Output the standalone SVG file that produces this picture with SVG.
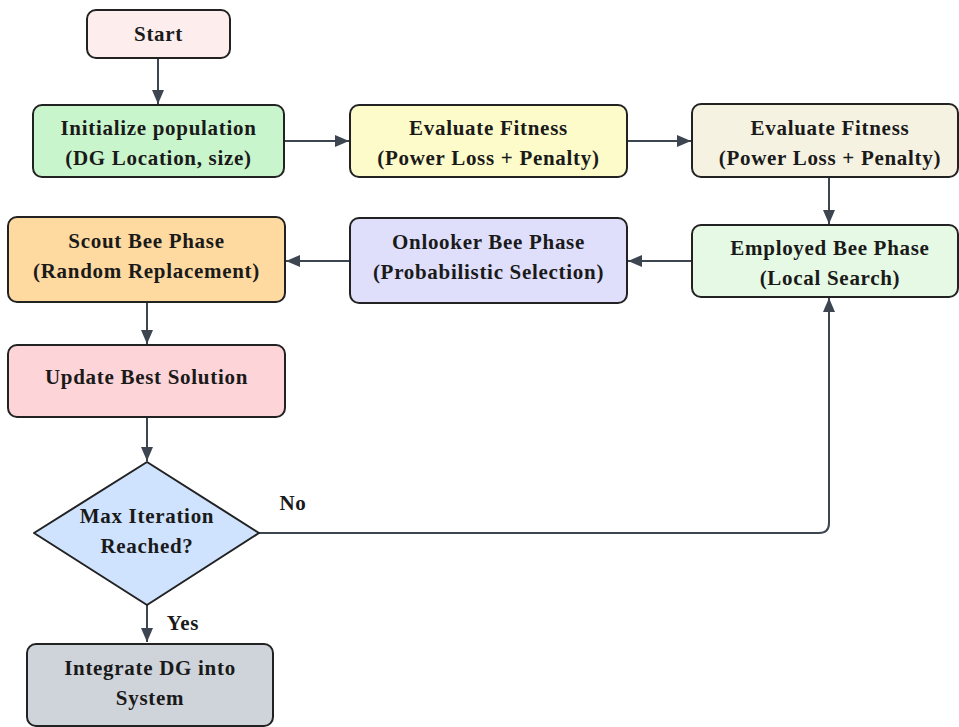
<svg xmlns="http://www.w3.org/2000/svg" width="959" height="727" viewBox="0 0 959 727">
<defs>
<marker id="ah" viewBox="0 0 14 12" refX="14" refY="6" markerWidth="14" markerHeight="12" markerUnits="userSpaceOnUse" orient="auto">
<path d="M0,0 L14,6 L0,12 z" fill="#3d4551"/>
</marker>
<style>
.n{stroke:#222;stroke-width:2}
.t{font-family:"Liberation Serif","Times New Roman",serif;font-weight:bold;font-size:21px;letter-spacing:0.7px;fill:#1a1a1a;text-anchor:middle;dominant-baseline:central}
.c{fill:none;stroke:#3d4551;stroke-width:2;marker-end:url(#ah)}
</style>
</defs>
<rect width="959" height="727" fill="#fff"/>
<g id="connectors">
<path class="c" d="M158,58 V104"/>
<path class="c" d="M284,141 H349"/>
<path class="c" d="M627,141 H691"/>
<path class="c" d="M829,177 V224"/>
<path class="c" d="M692,261 H628"/>
<path class="c" d="M350,261 H286"/>
<path class="c" d="M147,302 V344"/>
<path class="c" d="M147,417 V461"/>
<path class="c" d="M147,605 V642"/>
<path class="c" d="M259,533 H819 Q829,533 829,523 V298"/>
<text class="t" x="293" y="503">No</text>
<text class="t" x="183" y="623">Yes</text>
</g>
<g id="start"><rect class="n" x="87" y="10" width="143" height="48" rx="9" fill="#fdeeed"/><text class="t" x="158.5" y="34">Start</text></g>
<g id="init"><rect class="n" x="33" y="105" width="251" height="72" rx="9" fill="#c9f5cd"/><text class="t" x="158.5" y="128">Initialize population</text><text class="t" x="158.5" y="158">(DG Location, size)</text></g>
<g id="eval1"><rect class="n" x="350" y="105" width="277" height="72" rx="9" fill="#fcfbc9"/><text class="t" x="488.5" y="128">Evaluate Fitness</text><text class="t" x="488.5" y="158">(Power Loss + Penalty)</text></g>
<g id="eval2"><rect class="n" x="692" y="104" width="266" height="73" rx="9" fill="#f6f2e2"/><text class="t" x="830" y="128">Evaluate Fitness</text><text class="t" x="830" y="158">(Power Loss + Penalty)</text></g>
<g id="employed"><rect class="n" x="692" y="225" width="266" height="72" rx="9" fill="#e5f9e4"/><text class="t" x="830" y="248">Employed Bee Phase</text><text class="t" x="830" y="278">(Local Search)</text></g>
<g id="onlooker"><rect class="n" x="350" y="218" width="277" height="85" rx="9" fill="#dfdffc"/><text class="t" x="488.5" y="242">Onlooker Bee Phase</text><text class="t" x="488.5" y="272">(Probabilistic Selection)</text></g>
<g id="scout"><rect class="n" x="8" y="217" width="277" height="85" rx="9" fill="#fed9a0"/><text class="t" x="146.5" y="241">Scout Bee Phase</text><text class="t" x="146.5" y="271">(Random Replacement)</text></g>
<g id="update"><rect class="n" x="8" y="345" width="277" height="72" rx="9" fill="#fdd5d8"/><text class="t" x="146.5" y="377">Update Best Solution</text></g>
<g id="decision"><path class="n" d="M147,462 L259,533 L147,605 L34,533 Z" stroke-linejoin="round" fill="#cfe2fe"/><text class="t" x="147" y="516">Max Iteration</text><text class="t" x="147" y="546">Reached?</text></g>
<g id="integrate"><rect class="n" x="27" y="644" width="246" height="82" rx="9" fill="#cfd4db"/><text class="t" x="150" y="668">Integrate DG into</text><text class="t" x="150" y="698">System</text></g>
</svg>
